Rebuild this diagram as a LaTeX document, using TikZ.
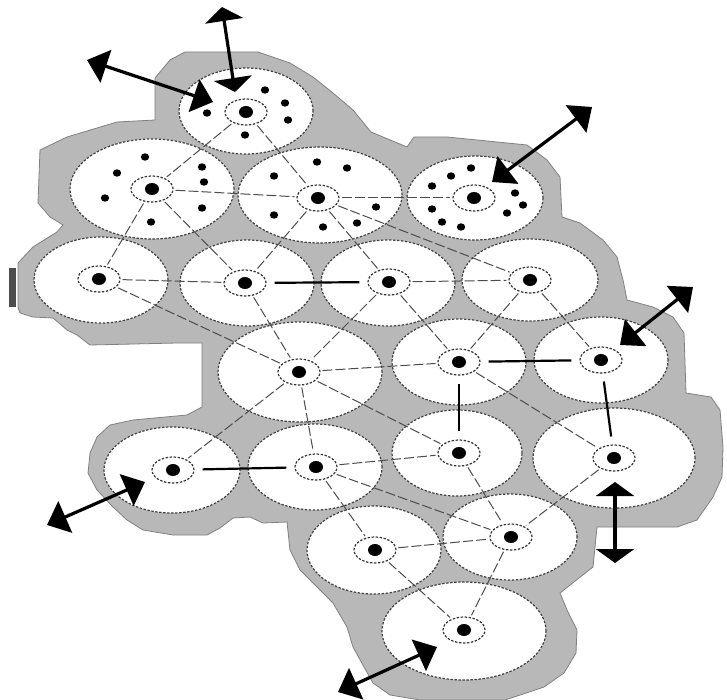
\documentclass[tikz,border=0pt]{standalone}
\usepackage{tikz}
\usetikzlibrary{shapes.geometric, arrows.meta}
\definecolor{gapgray}{RGB}{184,184,184}

\begin{document}
\begin{tikzpicture}[
    x=0.5pt, y=-0.5pt,
    cell/.style = {ellipse, draw=black!75, line width=0.6pt, dash pattern=on 1.2pt off 0.8pt, fill=white, inner sep=0pt, minimum width=67pt, minimum height=43pt},
    bigcell/.style = {cell, minimum width=82pt, minimum height=50pt},
    ring/.style = {ellipse, draw=black!80, line width=0.6pt, dash pattern=on 1.2pt off 0.8pt, inner sep=0pt, minimum width=21pt, minimum height=13pt,
        path picture={\fill (path picture bounding box.center) ellipse [x radius=3.5pt, y radius=3pt];}},
    spotsize/.style = {x radius=4.2, y radius=3.7},
    link/.style = {draw=black!70, line width=0.5pt, dash pattern=on 5pt off 1.5pt, shorten <=1pt, shorten >=1pt},
    bond/.style = {draw=black, line width=1.1pt, shorten <=4pt, shorten >=4pt},
    flow/.style = {draw=black, line width=1.6pt, {Triangle[length=10pt,width=17pt]}-{Triangle[length=10pt,width=17pt]}},
    upflow/.style = {flow, {Triangle[length=7pt,width=19pt]}-{Triangle[length=7pt,width=19pt]}}
]
    \useasboundingbox (0,0) rectangle (727,700);

    % Grey area round the cells
    \fill [gapgray, draw=black!50] (185,52) -- (258,52) -- (290,63) -- (313,77) -- (333,93) -- (353,110)
        -- (371,132) -- (407,147) -- (414,137) -- (447,137) -- (527,145) -- (547,160) -- (560,177)
        -- (562,217) -- (580,223) -- (603,240) -- (617,257) -- (623,280) -- (627,300) -- (653,307)
        -- (673,317) -- (684,333) -- (686,393) -- (711,397) -- (720,410) -- (723,447) -- (722,477)
        -- (713,497) -- (697,520) -- (677,527) -- (597,527) -- (593,567) -- (560,593) -- (567,610)
        -- (577,630) -- (576,653) -- (564,673) -- (544,687) -- (511,698) -- (505,700) -- (420,700)
        -- (390,695) -- (373,683) -- (364,667) -- (353,647) -- (347,627) -- (333,603) -- (320,590)
        -- (300,570) -- (290,550) -- (287,522) -- (263,523) -- (250,517) -- (233,518) -- (220,528)
        -- (207,535) -- (173,535) -- (143,530) -- (127,520) -- (113,507) -- (97,490) -- (88,473)
        -- (90,453) -- (97,437) -- (110,425) -- (133,420) -- (187,415) -- (202,407) -- (202,343)
        -- (177,343) -- (90,345) -- (77,335) -- (67,330) -- (53,318) -- (33,317) -- (20,313)
        -- (18,307) -- (18,263) -- (33,247) -- (57,232) -- (63,225) -- (50,217) -- (38,203)
        -- (40,150) -- (67,137) -- (117,122) -- (155,120) -- (155,78) -- (170,60) -- cycle;
    \fill [black!70] (9,268) rectangle (16,307);

    % Cells
    \node [cell] (cellA) at (246,111) {};
    \node [bigcell] (cellB) at (152,189) {};
    \node [bigcell, minimum height=48pt] (cellC) at (320,195) {};
    \node [cell, minimum width=68pt, minimum height=42pt] (cellD) at (475,198) {};
    \node [cell] (cellE) at (101,280) {};
    \node [cell] (cellF) at (247,283) {};
    \node [cell] (cellG) at (388,283) {};
    \node [cell, minimum width=68pt, minimum height=41pt] (cellH) at (530,280) {};
    \node [bigcell] (cellI) at (300,372) {};
    \node [cell] (cellJ) at (459,362) {};
    \node [cell] (cellK) at (601,360) {};
    \node [cell, minimum width=68pt] (cellL) at (172,470) {};
    \node [cell] (cellM) at (315,467) {};
    \node [cell, minimum width=65pt] (cellN) at (457,453) {};
    \node [bigcell, minimum width=81pt] (cellO) at (614,458) {};
    \node [cell, minimum height=44pt] (cellP) at (374,550) {};
    \node [cell] (cellQ) at (510,537) {};
    \node [bigcell, minimum height=49pt] (cellR) at (464,631) {};

    % Scattered spots
    \fill (207,113) ellipse [spotsize] (265,90) ellipse [spotsize] (285,103) ellipse [spotsize]
        (288,120) ellipse [spotsize] (245,135) ellipse [spotsize];
    \fill (145,157) ellipse [spotsize] (117,173) ellipse [spotsize] (202,167) ellipse [spotsize]
        (204,182) ellipse [spotsize] (105,198) ellipse [spotsize] (202,208) ellipse [spotsize]
        (151,222) ellipse [spotsize];
    \fill (317,162) ellipse [spotsize] (347,168) ellipse [spotsize] (274,176) ellipse [spotsize]
        (274,215) ellipse [spotsize] (323,227) ellipse [spotsize] (357,223) ellipse [spotsize]
        (376,207) ellipse [spotsize];
    \fill (471,168) ellipse [spotsize] (451,176) ellipse [spotsize] (432,186) ellipse [spotsize]
        (515,193) ellipse [spotsize] (523,205) ellipse [spotsize] (432,209) ellipse [spotsize]
        (442,222) ellipse [spotsize] (461,227) ellipse [spotsize] (507,213) ellipse [spotsize];

    % Centres
    \node [ring] (A) at (246,112) {};
    \node [ring] (B) at (152,189) {};
    \node [ring] (C) at (318,198) {};
    \node [ring] (D) at (474,198) {};
    \node [ring] (E) at (99,279) {};
    \node [ring] (F) at (245,283) {};
    \node [ring] (G) at (389,282) {};
    \node [ring] (H) at (530,280) {};
    \node [ring] (I) at (299,372) {};
    \node [ring] (J) at (459,362) {};
    \node [ring] (K) at (601,360) {};
    \node [ring] (L) at (173,470) {};
    \node [ring] (M) at (316,467) {};
    \node [ring] (N) at (459,453) {};
    \node [ring] (O) at (614,458) {};
    \node [ring] (P) at (375,550) {};
    \node [ring] (Q) at (511,537) {};
    \node [ring] (R) at (464,630) {};

    % Dashed links
    \draw [link] (A) -- (B);
    \draw [link] (A) -- (C);
    \draw [link] (B) -- (C);
    \draw [link] (B) -- (E);
    \draw [link] (B) -- (F);
    \draw [link] (C) -- (D);
    \draw [link] (C) -- (F);
    \draw [link] (C) -- (G);
    \draw [link] (C) -- (H);
    \draw [link] (E) -- (F);
    \draw [link] (E) -- (I);
    \draw [link] (F) -- (I);
    \draw [link] (G) -- (I);
    \draw [link] (G) -- (H);
    \draw [link] (G) -- (J);
    \draw [link] (H) -- (J);
    \draw [link] (H) -- (K);
    \draw [link] (I) -- (J);
    \draw [link] (I) -- (L);
    \draw [link] (I) -- (M);
    \draw [link] (I) -- (N);
    \draw [link] (J) -- (O);
    \draw [link] (M) -- (N);
    \draw [link] (M) -- (P);
    \draw [link] (M) -- (Q);
    \draw [link] (N) -- (Q);
    \draw [link] (O) -- (Q);
    \draw [link] (P) -- (Q);
    \draw [link] (P) -- (R);
    \draw [link] (Q) -- (R);

    % Solid links
    \draw [bond] (F) -- (G);
    \draw [bond] (J) -- (K);
    \draw [bond] (J) -- (N);
    \draw [bond] (K) -- (O);
    \draw [bond] (L) -- (M);

    % Arrows in and out
    \coordinate (outA1) at (222,7);   \coordinate (inA1) at (235,92);
    \coordinate (outA2) at (87,60);   \coordinate (inA2) at (213,102);
    \coordinate (outD) at (592,107);  \coordinate (inD) at (492,182);
    \coordinate (outK) at (693,287);  \coordinate (inK) at (620,345);
    \coordinate (inO) at (615,482);   \coordinate (outO) at (615,563);
    \coordinate (outL) at (47,525);   \coordinate (inL) at (145,482);
    \coordinate (outR) at (338,692);  \coordinate (inR) at (437,647);
    \draw [upflow] (outA1) -- (inA1);
    \draw [flow] (outA2) -- (inA2);
    \draw [flow] (outD) -- (inD);
    \draw [flow] (outK) -- (inK);
    \draw [upflow] (inO) -- (outO);
    \draw [flow] (outL) -- (inL);
    \draw [flow] (outR) -- (inR);
\end{tikzpicture}
\end{document}
